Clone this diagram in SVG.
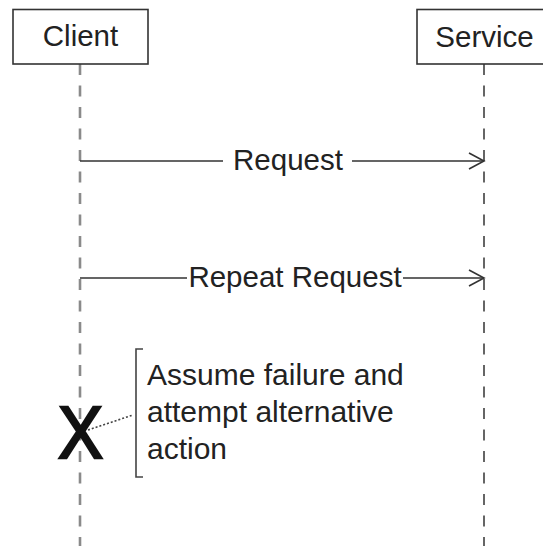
<svg xmlns="http://www.w3.org/2000/svg" width="543" height="546" viewBox="0 0 543 546">
<style>
.box{fill:#fff;stroke:#333;stroke-width:1.6}
.lbl{font-family:"Liberation Sans",Arial,sans-serif;font-size:29.5px;fill:#222}
.note{font-size:30px}
.msg{stroke:#333;stroke-width:1.6;fill:none}
.head{stroke:#333;stroke-width:1.6;fill:none;stroke-linejoin:miter}
</style>
<rect width="543" height="546" fill="#fff"/>
<g id="lifelines">
<line x1="80" y1="64" x2="80" y2="546" stroke="#8a8a8a" stroke-width="2.6" stroke-dasharray="11 10.5"/>
<line x1="484" y1="64" x2="484" y2="546" stroke="#333" stroke-width="1.5" stroke-dasharray="11 10.5"/>
</g>
<g id="client">
<rect class="box" x="13" y="9.5" width="135" height="54.5"/>
<text class="lbl" x="80.5" y="46" text-anchor="middle">Client</text>
</g>
<g id="service">
<rect class="box" x="417" y="9.5" width="140" height="54.5"/>
<text class="lbl" x="484.5" y="47" text-anchor="middle">Service</text>
</g>
<g id="connectors">
<path class="msg" d="M80,161 H223 M352,161 H484"/>
<path class="head" d="M469,153 L484,161 L469,169"/>
<path class="msg" d="M80,278 H187 M403,278 H484"/>
<path class="head" d="M469,270 L484,278 L469,286"/>
<path d="M88,430 L133,415" stroke="#444" stroke-width="1.6" stroke-dasharray="2 2" fill="none"/>
</g>
<g id="msg-labels">
<text class="lbl" x="288" y="170" text-anchor="middle">Request</text>
<text class="lbl" x="295" y="287" text-anchor="middle">Repeat Request</text>
</g>
<g id="failure">
<text x="80.5" y="458" text-anchor="middle" textLength="45" lengthAdjust="spacingAndGlyphs" style="font-family:'Liberation Sans',Arial,sans-serif;font-size:75px;fill:#111;stroke:#111;stroke-width:2.5">X</text>
</g>
<g id="note">
<path d="M143,349 H136 V477 H143" stroke="#444" stroke-width="1.6" fill="none"/>
<text class="lbl note" x="147" y="385">Assume failure and</text>
<text class="lbl note" x="147" y="422">attempt alternative</text>
<text class="lbl note" x="147" y="459">action</text>
</g>
</svg>
